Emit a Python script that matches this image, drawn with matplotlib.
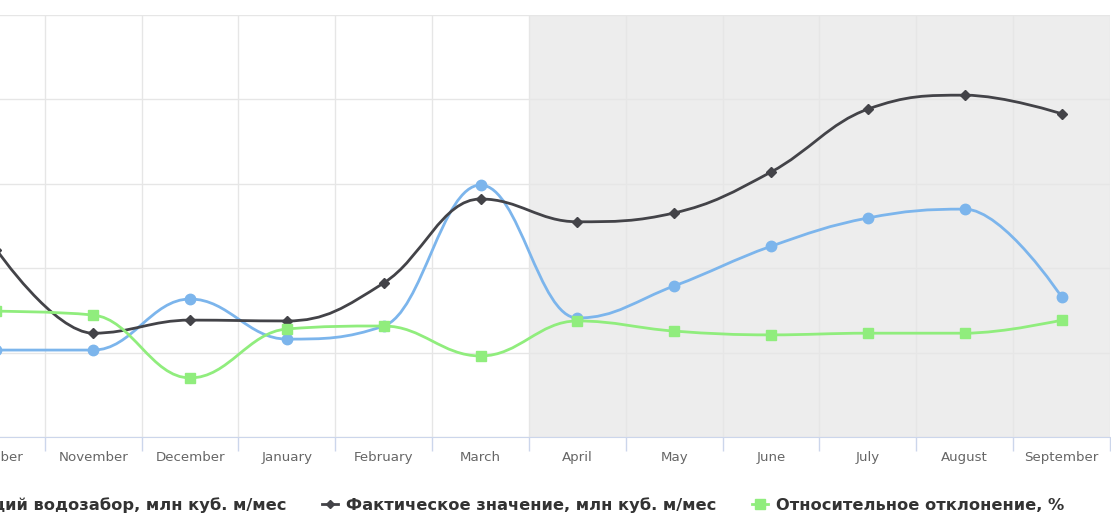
import numpy as np
import matplotlib.pyplot as plt
from matplotlib.path import Path
from matplotlib.patches import PathPatch
from matplotlib.lines import Line2D

months = ['October', 'November', 'December', 'January', 'February', 'March',
          'April', 'May', 'June', 'July', 'August', 'September']
intake = [1.03, 1.03, 1.635, 1.16, 1.315, 2.985, 1.41, 1.79, 2.26, 2.595, 2.70, 1.66]
actual = [2.22, 1.23, 1.385, 1.375, 1.825, 2.82, 2.55, 2.655, 3.14, 3.885, 4.05, 3.83]
deviation = [1.49, 1.445, 0.70, 1.28, 1.315, 0.96, 1.375, 1.255, 1.21, 1.23, 1.23, 1.385]

names = ['Общий водозабор, млн куб. м/мес',
         'Фактическое значение, млн куб. м/мес',
         'Относительное отклонение, %']
colors = ['#7cb5ec', '#434348', '#90ed7d']
markers = ['o', 'D', 's']
msizes = [7.5, 5.5, 7.5]
forecast_start = 5.5


def spline_path(xs, ys, smoothing=1.5):
    # highcharts-like spline control points
    n = len(xs)
    denom = smoothing + 1
    right = [None] * n
    verts = [(xs[0], ys[0])]
    codes = [Path.MOVETO]
    for i in range(1, n):
        px, py = xs[i], ys[i]
        lx, ly = xs[i - 1], ys[i - 1]
        if i < n - 1:
            nx, ny = xs[i + 1], ys[i + 1]
            lcx = (smoothing * px + lx) / denom
            lcy = (smoothing * py + ly) / denom
            rcx = (smoothing * px + nx) / denom
            rcy = (smoothing * py + ny) / denom
            corr = (rcy - lcy) * (rcx - px) / (rcx - lcx) + py - rcy
            lcy += corr
            rcy += corr
            if lcy > ly and lcy > py:
                lcy = max(ly, py); rcy = 2 * py - lcy
            elif lcy < ly and lcy < py:
                lcy = min(ly, py); rcy = 2 * py - lcy
            if rcy > ny and rcy > py:
                rcy = max(ny, py); lcy = 2 * py - rcy
            elif rcy < ny and rcy < py:
                rcy = min(ny, py); lcy = 2 * py - rcy
            right[i] = (rcx, rcy)
        else:
            lcx, lcy = px, py
        c1 = right[i - 1] if right[i - 1] else (lx, ly)
        verts += [c1, (lcx, lcy), (px, py)]
        codes += [Path.CURVE4] * 3
    return Path(verts, codes)


fig = plt.figure(figsize=(11.11, 5.25), dpi=100)
ax = fig.add_axes([-52 / 1111, 88 / 525, 1162 / 1111, 422 / 525])

x = np.arange(len(months))
ax.set_xlim(-0.5, len(months) - 0.5)
ax.set_ylim(0, 5)
ax.axvspan(forecast_start, len(months) - 0.5, color='#ededed', zorder=0, lw=0)

ax.set_yticks(range(6))
ax.set_yticklabels([])
ax.tick_params(axis='y', length=0)
ax.set_xticks(x)
ax.set_xticklabels(months, color='#666666', fontsize=9.6)
ax.tick_params(axis='x', which='major', length=0, pad=10)
ax.set_xticks(np.arange(-0.5, len(months)), minor=True)
ax.tick_params(axis='x', which='minor', length=10, color='#ccd6eb', width=1)
ax.grid(axis='y', which='major', color='#e6e6e6', lw=1, zorder=1)
ax.grid(axis='x', which='minor', color='#e6e6e6', lw=1, zorder=1)
ax.set_axisbelow(True)
for s in ['top', 'left', 'right']:
    ax.spines[s].set_visible(False)
ax.spines['bottom'].set_color('#ccd6eb')

handles = []
for k, ys in enumerate([intake, actual, deviation]):
    p = spline_path(list(x), list(ys))
    ax.add_patch(PathPatch(p, fill=False, ec=colors[k], lw=2, zorder=3 + k))
    ax.plot(x, ys, ls='none', marker=markers[k], ms=msizes[k], color=colors[k],
            zorder=3 + k, clip_on=False)
    handles.append(Line2D([], [], color=colors[k], lw=2, marker=markers[k],
                          ms=msizes[k] - 1))

# one legend entry per item, placed like the original layout
leg_y = 1 - 505 / 525
leg_anchor = [(286 / 1111, 'center right'), (322 / 1111, 'center left'),
              (752 / 1111, 'center left')]
for k in range(3):
    fig.legend([handles[k]], [names[k]], loc=leg_anchor[k][1],
               bbox_to_anchor=(leg_anchor[k][0], leg_y), frameon=False,
               prop={'weight': 'bold', 'size': 11.7}, labelcolor='#333333',
               handlelength=1.0, handletextpad=0.45,
               borderpad=0, borderaxespad=0)

fig.savefig('out.png', dpi=100)
